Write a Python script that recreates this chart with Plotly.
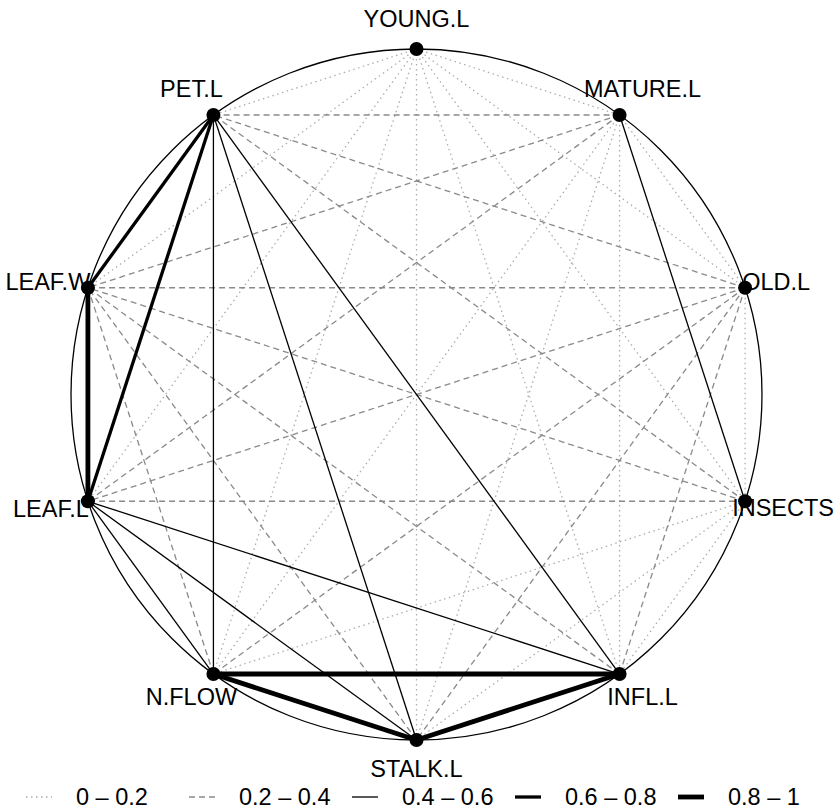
import numpy as np
import plotly.graph_objects as go

# variables, clockwise from the top of the circle
nodes = ["YOUNG.L", "MATURE.L", "OLD.L", "INSECTS", "INFL.L",
         "STALK.L", "N.FLOW", "LEAF.L", "LEAF.W", "PET.L"]

# |correlation| estimated from the line style of each pair (upper triangle, row i -> cols i+1..)
r_young   = [0.10, 0.12, 0.08, 0.15, 0.05, 0.11, 0.14, 0.09, 0.13]
r_mature  = [0.15, 0.52, 0.10, 0.18, 0.12, 0.31, 0.28, 0.35]
r_old     = [0.16, 0.30, 0.27, 0.25, 0.33, 0.36, 0.29]
r_insects = [0.12, 0.17, 0.09, 0.26, 0.32, 0.24]
r_infl    = [0.88, 0.86, 0.47, 0.34, 0.55]
r_stalk   = [0.84, 0.45, 0.38, 0.51]
r_nflow   = [0.48, 0.30, 0.57]
r_leafl   = [0.90, 0.72]
r_leafw   = [0.75]
rows = [r_young, r_mature, r_old, r_insects, r_infl, r_stalk, r_nflow, r_leafl, r_leafw]

breaks = [0, 0.2, 0.4, 0.6, 0.8, 1.0]
bin_labels = ["0 \u2013 0.2", "0.2 \u2013 0.4", "0.4 \u2013 0.6", "0.6 \u2013 0.8", "0.8 \u2013 1"]

# styles per bin
colors = ["#ADADAD", "#8A8A8A", "black", "black", "black"]
widths = [1.3, 1.3, 1.3, 3.3, 4.8]
dashes = ["1.5px,3.5px", "6px,4px", "solid", "solid", "solid"]

W, H = 837, 810
cx, cy, rad = 416.5, 394.5, 345.5   # circle centre / radius in pixels

n = len(nodes)
ang = np.pi / 2 - 2 * np.pi * np.arange(n) / n
nx, ny = np.cos(ang), np.sin(ang)

R = np.zeros((n, n))
for i, row in enumerate(rows):
    for k, v in enumerate(row):
        R[i, i + 1 + k] = v
cat = np.digitize(R, breaks[1:-1])

fig = go.Figure()
fig.add_shape(type="circle", x0=-1, y0=-1, x1=1, y1=1,
              line=dict(color="black", width=1.3), layer="below")

for c in range(5):
    xs, ys = [], []
    for i in range(n):
        for j in range(i + 1, n):
            if cat[i, j] == c:
                xs += [nx[i], nx[j], None]
                ys += [ny[i], ny[j], None]
    fig.add_trace(go.Scatter(x=xs, y=ys, mode="lines", hoverinfo="skip",
                             line=dict(color=colors[c], width=widths[c], dash=dashes[c])))

# label centre offsets from node, in pixels (drawn under the node dots)
lab_off = {"YOUNG.L": (0, -28), "MATURE.L": (23, -24), "OLD.L": (31, -4),
           "INSECTS": (38, 9), "INFL.L": (23, 25), "STALK.L": (0, 31),
           "N.FLOW": (-22, 25), "LEAF.L": (-37, 10), "LEAF.W": (-40, -4),
           "PET.L": (-22, -24)}
font = dict(family="Liberation Sans, Arial", size=23.5, color="black")
lx = [nx[i] + lab_off[s][0] / rad for i, s in enumerate(nodes)]
ly_ = [ny[i] - lab_off[s][1] / rad for i, s in enumerate(nodes)]
fig.add_trace(go.Scatter(x=lx, y=ly_, mode="text", text=nodes, hoverinfo="skip",
                         textposition="middle center", textfont=font))

fig.add_trace(go.Scatter(x=nx, y=ny, mode="markers", text=nodes, hoverinfo="text",
                         marker=dict(color="black", size=14)))

# legend along the bottom
ly = 797
for c in range(5):
    x0 = 26 + 163 * c
    fig.add_shape(type="line", xref="paper", yref="paper",
                  x0=x0 / W, x1=(x0 + 26) / W, y0=1 - ly / H, y1=1 - ly / H,
                  line=dict(color=colors[c], width=widths[c], dash=dashes[c]))
    fig.add_annotation(xref="paper", yref="paper", x=(x0 + 48) / W, y=1 - ly / H,
                       text=bin_labels[c], showarrow=False, font=font,
                       xanchor="left", yanchor="middle")

fig.update_layout(
    width=W, height=H, margin=dict(l=0, r=0, t=0, b=0),
    paper_bgcolor="white", plot_bgcolor="white", showlegend=False,
    xaxis=dict(range=[-cx / rad, (W - cx) / rad], visible=False, fixedrange=True),
    yaxis=dict(range=[-(H - cy) / rad, cy / rad], visible=False, fixedrange=True),
)
fig.write_html("out.html", config={"displayModeBar": False},
               post_script="document.body.style.margin='0px';")
